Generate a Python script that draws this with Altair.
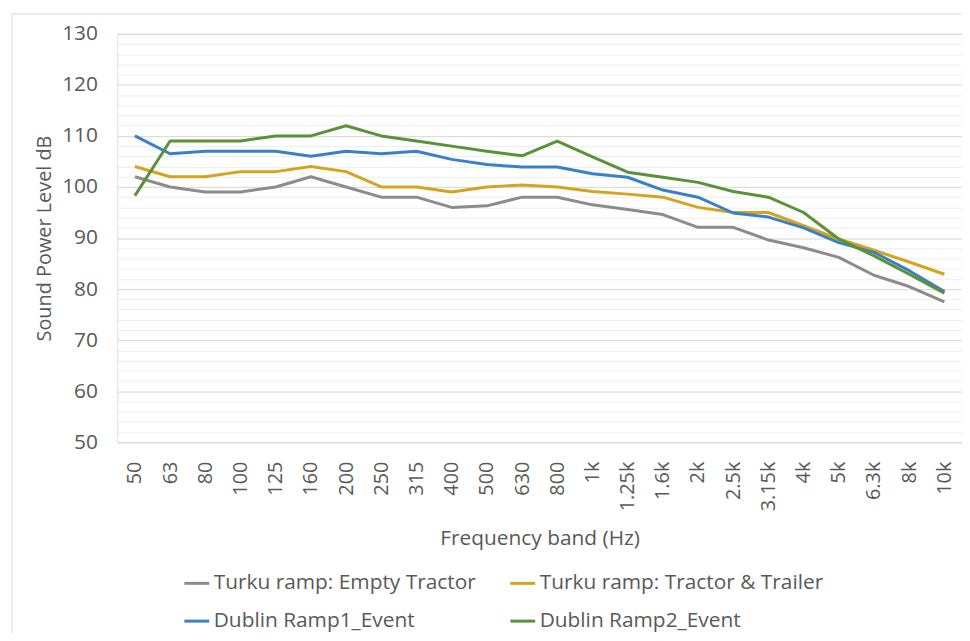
import altair as alt
import pandas as pd

freqs = ["50", "63", "80", "100", "125", "160", "200", "250", "315", "400", "500", "630",
         "800", "1k", "1.25k", "1.6k", "2k", "2.5k", "3.15k", "4k", "5k", "6.3k", "8k", "10k"]

series_names = ["Turku ramp: Empty Tractor", "Turku ramp: Tractor & Trailer",
                "Dublin Ramp1_Event", "Dublin Ramp2_Event"]

turku_empty = [102, 100, 99, 99, 100, 102, 100, 98, 98, 96, 96.3, 98,
               98, 96.5, 95.6, 94.6, 92.1, 92.1, 89.6, 88.1, 86.2, 82.7, 80.5, 77.5]
turku_trailer = [104, 102, 102, 103, 103, 104, 103, 100, 100, 99, 100, 100.4,
                 100, 99.1, 98.6, 98, 96, 95, 95, 92.4, 89.8, 87.6, 85.3, 82.9]
dublin_r1 = [110, 106.5, 107, 107, 107, 106, 107, 106.5, 107, 105.4, 104.4, 103.9,
             103.9, 102.6, 101.9, 99.4, 98, 94.9, 94.1, 92, 89.1, 87.2, 83.6, 79.5]
dublin_r2 = [98.3, 109, 109, 109, 110, 110, 112, 110, 109, 108, 107, 106.1,
             109, 105.9, 102.9, 101.9, 100.9, 99.1, 98, 95, 89.8, 86.5, 82.9, 79.2]

colors = ["#8c8c8c", "#d6a31f", "#3b80c6", "#5a9139"]
y_ticks = list(range(50, 131, 2))

rows = []
for name, vals in zip(series_names, [turku_empty, turku_trailer, dublin_r1, dublin_r2]):
    for f, v in zip(freqs, vals):
        rows.append({"freq": f, "level": v, "series": name})
df = pd.DataFrame(rows)

W, H = 850, 411
FONT = "Open Sans"
TXT = "#595959"

lines = alt.Chart(df).mark_line(strokeWidth=3, strokeJoin="round").encode(
    x=alt.X("freq:N", sort=freqs,
            scale=alt.Scale(type="point", padding=0.5),
            axis=alt.Axis(title="Frequency band (Hz)", labelAngle=-90, labelFontSize=20,
                          labelColor=TXT, labelFont=FONT, labelPadding=19, ticks=False,
                          domain=False, grid=False, titleFont=FONT, titleFontSize=21,
                          titleColor=TXT, titleFontWeight="normal", titlePadding=17)),
    y=alt.Y("level:Q",
            scale=alt.Scale(domain=[50, 130], nice=False, zero=False),
            axis=alt.Axis(title="Sound Power Level dB", values=y_ticks,
                          labelExpr="datum.value % 10 === 0 ? datum.label : ''",
                          labelFontSize=21, labelColor=TXT, labelFont=FONT, labelPadding=20,
                          ticks=False, domain=False,
                          gridColor={"condition": {"test": "datum.value % 10 === 0", "value": "#d6d6d6"},
                                     "value": "#eeeeee"},
                          gridWidth=1,
                          titleFont=FONT, titleFontSize=20, titleColor=TXT,
                          titleFontWeight="normal", titlePadding=7)),
    color=alt.Color("series:N",
                    scale=alt.Scale(domain=series_names, range=colors),
                    legend=alt.Legend(title=None, orient="none", legendX=66, legendY=539,
                                      direction="horizontal",
                                      columns=2, columnPadding=28, rowPadding=14,
                                      symbolType="stroke", symbolSize=625,
                                      symbolStrokeWidth=3, labelFontSize=21, labelFont=FONT,
                                      labelColor=TXT, labelOffset=3, labelLimit=400)),
)

border_left = alt.Chart().mark_rule(color="#d9d9d9", strokeWidth=1).encode(
    x=alt.value(-106), y=alt.value(-20), y2=alt.value(H + 210))
border_top = alt.Chart().mark_rule(color="#d9d9d9", strokeWidth=1).encode(
    x=alt.value(-106), x2=alt.value(W + 10), y=alt.value(-20))

chart = alt.layer(border_left, border_top, lines).properties(
    width=W, height=H,
    autosize=alt.AutoSizeParams(type="none"),
    padding={"left": 110, "top": 24, "right": 0, "bottom": 190},
).configure_view(stroke=None).configure(background="white")

chart.save("out.html", embed_options={"renderer": "svg", "actions": False})
